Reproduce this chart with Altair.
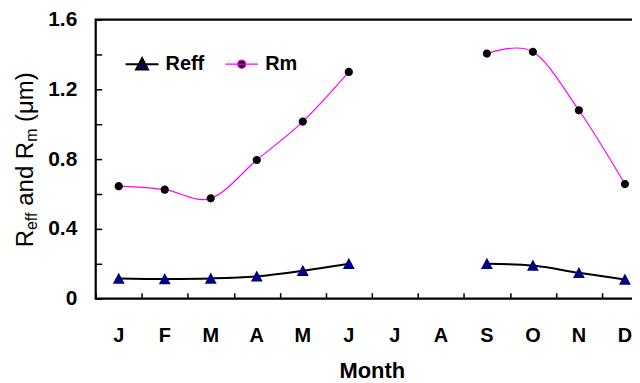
import altair as alt
import pandas as pd

months = ["Jan", "Feb", "Mar", "Apr", "May", "Jun", "Jul", "Aug", "Sep", "Oct", "Nov", "Dec"]
reff = [0.115, 0.113, 0.116, 0.128, 0.160, 0.200, None, None, 0.200, 0.190, 0.148, 0.110]
rm = [0.645, 0.625, 0.575, 0.795, 1.015, 1.300, None, None, 1.405, 1.415, 1.080, 0.657]
series_names = ["Reff", "Rm"]
y_label_values = [0, 0.4, 0.8, 1.2, 1.6]
y_tick_values = [0, 0.2, 0.4, 0.6, 0.8, 1.0, 1.2, 1.4, 1.6]
# y-axis title pieces: (text, is_subscript)
title_pieces = [("R", False), ("eff", True), (" and R", False), ("m", True), (" (μm)", False)]

rows = []
for name, vals in zip(series_names, [reff, rm]):
    for i, (m, v) in enumerate(zip(months, vals)):
        if v is None:
            continue
        rows.append({"month": m, "series": name, "value": v, "seg": "a" if i < 6 else "b"})
df = pd.DataFrame(rows)

FONT = "Liberation Sans"

# legend symbols: a horizontal line plus the marker (unit box [-1,1])
tri_path = "M-1,0H1M-0.36,0.32L0,-0.36L0.36,0.32Z"
dot_path = "M-1,0H1M0.25,0A0.25,0.25,0,1,1,-0.25,0A0.25,0.25,0,1,1,0.25,0Z"

xscale = alt.Scale(type="band", domain=months, paddingInner=0, paddingOuter=0)
yscale = alt.Scale(domain=[0, 1.6], nice=False, zero=True)

leg = alt.Legend(
    orient="none", legendX=29, legendY=27, direction="horizontal", title=None,
    labelFont=FONT, labelFontSize=20, labelFontWeight="bold", labelColor="black",
    symbolSize=1089, symbolStrokeWidth=1.5, labelOffset=6, columnPadding=18, padding=0,
)

line = alt.Chart(df).mark_line(interpolate="cardinal").encode(
    x=alt.X("month:O", scale=xscale, bandPosition=0.5,
            axis=alt.Axis(title=None, labels=False, domain=False, ticks=True, tickSize=6,
                          tickBand="extent", offset=-6, tickColor="black", tickWidth=1.5,
                          grid=False, orient="bottom")),
    y=alt.Y("value:Q", scale=yscale,
            axis=alt.Axis(title=None, labels=False, domain=False, ticks=True, tickSize=6,
                          values=y_tick_values, offset=-6, tickColor="black", tickWidth=1.5,
                          grid=False, orient="left")),
    stroke=alt.Stroke("series:N", scale=alt.Scale(domain=series_names, range=["black", "#ff00ff"]), legend=leg),
    strokeWidth=alt.StrokeWidth("series:N", scale=alt.Scale(domain=series_names, range=[2, 1.2]), legend=None),
    detail="seg:N",
)

points = alt.Chart(df).mark_point(filled=True, size=1089, opacity=1).encode(
    x=alt.X("month:O", scale=xscale, bandPosition=0.5,
            axis=alt.Axis(title="Month", labelExpr="substring(datum.label, 0, 1)", labelAngle=0,
                          ticks=False, domain=False, labelPadding=27, labelFont=FONT,
                          labelFontSize=20, labelFontWeight="bold", labelColor="black",
                          titleFont=FONT, titleFontSize=22, titleFontWeight="bold", titleColor="black",
                          titlePadding=15, grid=False, orient="bottom")),
    y=alt.Y("value:Q", scale=yscale,
            axis=alt.Axis(title=None, values=y_label_values, format=".1~f",
                          ticks=False, domain=False, labelPadding=19, labelFont=FONT,
                          labelFontSize=21, labelFontWeight="bold", labelColor="black",
                          grid=False, orient="left")),
    shape=alt.Shape("series:N", scale=alt.Scale(domain=series_names, range=[tri_path, dot_path]), legend=leg),
    fill=alt.Fill("series:N", scale=alt.Scale(domain=series_names, range=["#000080", "black"]), legend=leg),
)

# rotated y-axis title built from normal and subscript pieces
BIG, SMALL = 24, 16
def text_width(s, size):
    w = {"R": 0.722, "e": 0.556, "f": 0.278, " ": 0.278, "a": 0.556, "n": 0.556, "d": 0.556,
         "m": 0.833, "(": 0.333, ")": 0.333, "μ": 0.576}
    return sum(w.get(c, 0.556) for c in s) * size

title_layers = []
pos = 228.5
for txt, sub in title_pieces:
    size = SMALL if sub else BIG
    stripped = txt.lstrip(" ")
    pos -= text_width(txt[: len(txt) - len(stripped)], size)
    title_layers.append(
        alt.Chart(df).mark_text(text=stripped, angle=270, align="left", baseline="alphabetic",
                                font=FONT, fontSize=size, color="black")
        .encode(x=alt.value(-59 if sub else -63), y=alt.value(pos))
        .transform_filter("datum.month == 'Jan' && datum.series == 'Reff'")
    )
    pos -= text_width(stripped, size)

chart = alt.layer(line, points, *title_layers).resolve_axis(x="independent", y="independent").properties(
    width=554, height=280,
    autosize=alt.AutoSizeParams(type="none"),
    padding={"left": 88, "top": 11, "right": -16, "bottom": 84},
).configure_view(stroke="black", strokeWidth=2.2)

chart.save("out.html", embed_options={"renderer": "svg", "actions": False})
